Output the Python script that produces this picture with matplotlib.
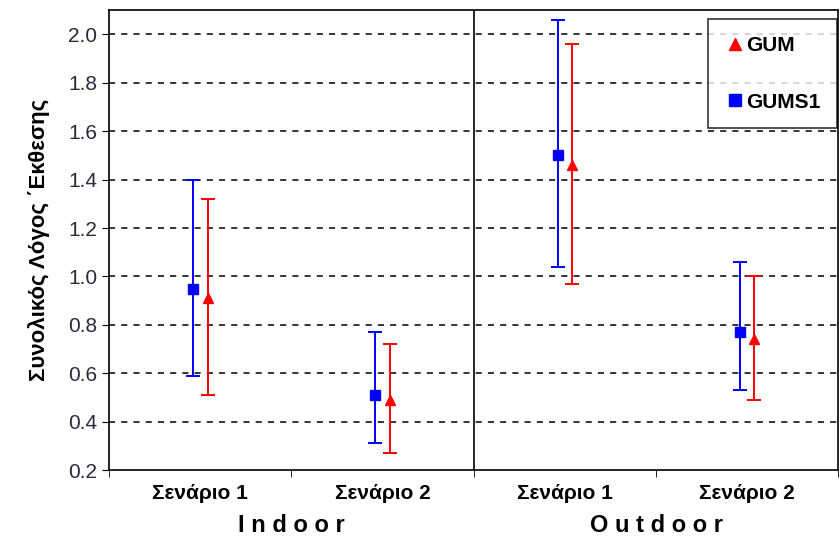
import matplotlib
matplotlib.use("Agg")
import matplotlib.pyplot as plt
from matplotlib.lines import Line2D
import numpy as np

plt.rcParams['font.family'] = ['Liberation Sans', 'DejaVu Sans']

categories = ["Σενάριο 1", "Σενάριο 2", "Σενάριο 1", "Σενάριο 2"]
groups = ["I n d o o r", "O u t d o o r"]

gums1_mean = [0.95, 0.51, 1.50, 0.77]
gums1_low = [0.59, 0.31, 1.04, 0.53]
gums1_high = [1.40, 0.77, 2.06, 1.06]

gum_mean = [0.91, 0.49, 1.46, 0.74]
gum_low = [0.51, 0.27, 0.97, 0.49]
gum_high = [1.32, 0.72, 1.96, 1.00]

yticks = [0.2, 0.4, 0.6, 0.8, 1.0, 1.2, 1.4, 1.6, 1.8, 2.0]

fig = plt.figure(figsize=(8.4, 5.39), dpi=100)
ax = fig.add_axes([0.130, 0.128, 0.868, 0.853])

x = np.arange(len(categories))
off = 0.04

for gx in yticks[1:]:
    ax.axhline(gx, color='black', linestyle=(0, (4, 4)), linewidth=1.1, zorder=0)

m1 = np.array(gums1_mean)
ax.errorbar(x - off, m1, yerr=[m1 - np.array(gums1_low), np.array(gums1_high) - m1],
            fmt='s', color='blue', ecolor='blue', markersize=7, capsize=5,
            elinewidth=1.4, capthick=1.4, zorder=3)
m2 = np.array(gum_mean)
ax.errorbar(x + off, m2, yerr=[m2 - np.array(gum_low), np.array(gum_high) - m2],
            fmt='^', color='red', ecolor='red', markersize=7, capsize=5,
            elinewidth=1.4, capthick=1.4, zorder=3)

ax.axvline(1.5, color='black', linewidth=1.2)

ax.set_xlim(-0.5, 3.5)
ax.set_ylim(0.2, 2.1)
ax.set_yticks(yticks)
ax.set_yticklabels([f"{v:.1f}" for v in yticks], fontsize=15, color='#2a2a3a')
ax.set_xticks(x)
ax.set_xticklabels(categories, fontsize=15, fontweight='bold')
ax.tick_params(axis='x', length=0, pad=10)
ax.set_xticks([-0.5, 0.5, 1.5, 2.5, 3.5], minor=True)
ax.tick_params(axis='x', which='minor', length=5, direction='out')
ax.tick_params(axis='y', length=5, direction='out')

for s in ax.spines.values():
    s.set_linewidth(1.2)

for i, g in enumerate(groups):
    ax.text(0.5 + 2 * i, -0.12, g, transform=ax.get_xaxis_transform(),
            ha='center', va='center', fontsize=17, fontweight='bold')

ax.set_ylabel("Συνολικός Λόγος ΄Εκθεσης", fontsize=16, fontweight='bold', labelpad=13)

handles = [Line2D([], [], marker='^', color='red', linestyle='none', markersize=9),
           Line2D([], [], marker='s', color='blue', linestyle='none', markersize=9)]
leg = ax.legend(handles, ['GUM', 'GUMS1'], loc='upper right', bbox_to_anchor=(0.998, 0.98),
                frameon=True, fancybox=False, edgecolor='black', handletextpad=0.0,
                handlelength=1.0, labelspacing=1.8, borderpad=0.8, borderaxespad=0.0,
                prop={'weight': 'bold', 'size': 15})
leg.get_frame().set_linewidth(1.2)

fig.savefig("out.png", dpi=100)
